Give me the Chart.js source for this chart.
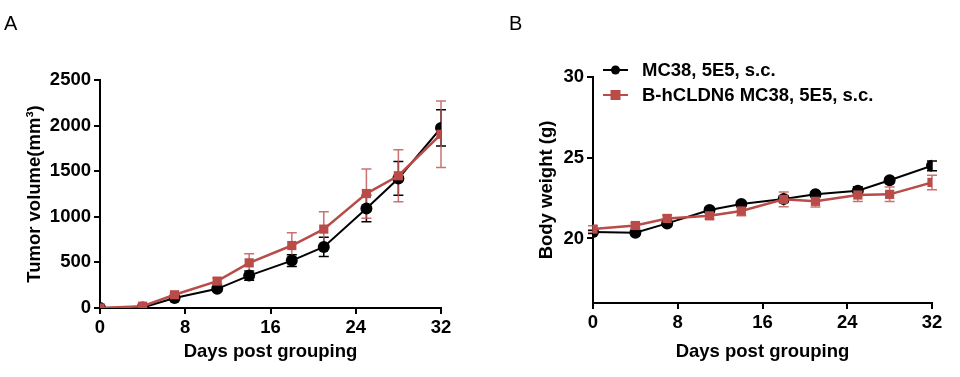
<!DOCTYPE html>
<html>
<head>
<meta charset="utf-8">
<script src="https://cdn.jsdelivr.net/npm/chart.js@4.4.1/dist/chart.umd.min.js"></script>
<style>
  body { margin: 0; background: #fff; }
  .wrap { position: relative; width: 960px; height: 377px; }
  .panel { position: absolute; top: 0; width: 480px; height: 377px; }
  .tag { position: absolute; top: 12px; font: 20px "Liberation Sans", Arial, sans-serif; color: #000; }
</style>
</head>
<body>
<div class="wrap">
  <div class="panel" style="left:0"><canvas id="tumorChart" width="480" height="377"></canvas></div>
  <div class="panel" style="left:480px"><canvas id="weightChart" width="480" height="377"></canvas></div>
  <div class="tag" style="left:4px">A</div>
  <div class="tag" style="left:509px">B</div>
</div>
<script>
// données
const days = [0, 4, 7, 11, 14, 18, 21, 25, 28, 32];
const groupNames = ['MC38, 5E5, s.c.', 'B-hCLDN6 MC38, 5E5, s.c.'];

const tumorMC38 = [0, 5, 110, 210, 355, 520, 670, 1090, 1420, 1975];
const tumorMC38Err = [0, 5, 15, 25, 50, 65, 105, 145, 185, 200];
const tumorCLDN6 = [0, 20, 145, 295, 495, 685, 865, 1255, 1450, 1905];
const tumorCLDN6Err = [0, 8, 20, 35, 100, 140, 190, 270, 285, 365];

const weightMC38 = [20.4, 20.35, 20.93, 21.76, 22.13, 22.44, 22.73, 22.95, 23.6, 24.5];
const weightMC38Err = [0.1, 0.1, 0.15, 0.15, 0.15, 0.2, 0.15, 0.25, 0.15, 0.3];
const weightCLDN6 = [20.58, 20.8, 21.24, 21.4, 21.7, 22.42, 22.3, 22.69, 22.73, 23.47];
const weightCLDN6Err = [0.2, 0.15, 0.2, 0.2, 0.3, 0.45, 0.35, 0.4, 0.45, 0.45];

const tumorTicks = [0, 500, 1000, 1500, 2000, 2500];
const weightTicks = [20, 25, 30];
const dayTicks = [0, 8, 16, 24, 32];

const BLACK = '#000000';
const RED = '#b94b48';
const RED_ERR = 'rgba(190, 90, 88, 0.85)';
const FONT = '"Liberation Sans", Arial, sans-serif';

const toXY = (ys) => days.map((d, i) => ({ x: d, y: ys[i] }));

// barres d'erreur (SEM) dessinées avec les échelles du graphique
const errorBarPlugin = {
  id: 'errorBars',
  beforeDatasetsDraw(chart) {
    const ctx = chart.ctx;
    const xs = chart.scales.x, ys = chart.scales.y;
    ctx.save();
    chart.data.datasets.forEach((ds) => {
      if (!ds.err) return;
      ctx.strokeStyle = ds.errColor;
      ctx.lineWidth = 1.5;
      ds.data.forEach((p, i) => {
        const e = ds.err[i];
        if (!e) return;
        const px = xs.getPixelForValue(p.x);
        const top = ys.getPixelForValue(p.y + e);
        const bot = ys.getPixelForValue(Math.max(p.y - e, ys.min));
        ctx.beginPath();
        ctx.moveTo(px, top); ctx.lineTo(px, bot);
        ctx.moveTo(px - 5, top); ctx.lineTo(px + 5, top);
        ctx.moveTo(px - 5, bot); ctx.lineTo(px + 5, bot);
        ctx.stroke();
      });
    });
    ctx.restore();
  }
};

// légende façon GraphPad (trait + symbole)
const sideLegendPlugin = {
  id: 'sideLegend',
  afterDraw(chart, args, opts) {
    if (!opts.show) return;
    const ctx = chart.ctx;
    ctx.save();
    const rows = [
      { label: groupNames[0], color: BLACK, shape: 'circle', y: 70 },
      { label: groupNames[1], color: RED, shape: 'square', y: 95 }
    ];
    rows.forEach((r) => {
      const x0 = 123, x1 = 148, cx = 135.5;
      ctx.strokeStyle = r.color;
      ctx.fillStyle = r.color;
      ctx.lineWidth = 2;
      ctx.beginPath(); ctx.moveTo(x0, r.y); ctx.lineTo(x1, r.y); ctx.stroke();
      ctx.beginPath();
      if (r.shape === 'circle') ctx.arc(cx, r.y, 4.5, 0, Math.PI * 2);
      else ctx.rect(cx - 5, r.y - 5, 10, 10);
      ctx.fill();
      ctx.fillStyle = BLACK;
      ctx.font = 'bold 18.5px ' + FONT;
      ctx.textBaseline = 'middle';
      ctx.fillText(r.label, 162, r.y + 1);
    });
    ctx.restore();
  }
};

Chart.register(errorBarPlugin, sideLegendPlugin);

function axisOpts(ticksList, min, max, step, title, fitSize, titlePad, isY) {
  return {
    type: 'linear',
    min: min, max: max,
    afterBuildTicks: (s) => { s.ticks = ticksList.map(v => ({ value: v })); },
    afterFit: (s) => { if (isY) s.width = fitSize; else s.height = fitSize; },
    ticks: { stepSize: step, color: BLACK, padding: 3, callback: (v) => String(v),
             font: { family: FONT, size: 18.5, weight: 'bold' } },
    grid: { display: true, drawOnChartArea: false, drawTicks: true, tickLength: 6, color: BLACK, lineWidth: 2 },
    border: { display: true, color: BLACK, width: 2 },
    title: { display: true, text: title, color: BLACK, padding: { top: titlePad, bottom: titlePad },
             font: { family: FONT, size: 18.5, weight: 'bold' } }
  };
}

function makeChart(id, a, aErr, b, bErr, yTicks, yMin, yMax, yStep, yTitle, box, legend) {
  return new Chart(document.getElementById(id).getContext('2d'), {
    type: 'scatter',
    data: {
      datasets: [
        { label: groupNames[0], data: toXY(a), err: aErr, errColor: BLACK, showLine: true,
          borderColor: BLACK, backgroundColor: BLACK, borderWidth: 2, pointStyle: 'circle',
          pointRadius: 6, pointBorderWidth: 0, order: 2 },
        { label: groupNames[1], data: toXY(b), err: bErr, errColor: RED_ERR, showLine: true,
          borderColor: RED, backgroundColor: RED, borderWidth: 2.5, pointStyle: 'rect',
          pointRadius: 6.5, pointBorderWidth: 0, order: 1 }
      ]
    },
    options: {
      responsive: false,
      animation: false,
      layout: { padding: { left: 0, right: box.right, top: box.top, bottom: 0 } },
      plugins: { legend: { display: false }, tooltip: { enabled: false }, sideLegend: { show: legend } },
      scales: {
        x: axisOpts(dayTicks, 0, 32, 8, 'Days post grouping', box.xh, 14, false),
        y: axisOpts(yTicks, yMin, yMax, yStep, yTitle, box.yw, box.ytp, true)
      }
    }
  });
}

makeChart('tumorChart', tumorMC38, tumorMC38Err, tumorCLDN6, tumorCLDN6Err,
  tumorTicks, 0, 2500, 500, 'Tumor volume(mm³)',
  { right: 39, top: 80, xh: 69, yw: 100, ytp: 24 }, false);

makeChart('weightChart', weightMC38, weightMC38Err, weightCLDN6, weightCLDN6Err,
  weightTicks, 16, 30, 5, 'Body weight (g)',
  { right: 28, top: 77, xh: 74, yw: 113, ytp: 56 }, true);
</script>
</body>
</html>
